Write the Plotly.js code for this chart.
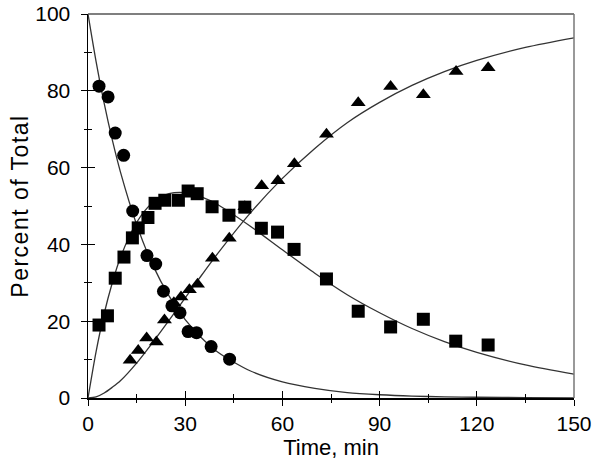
<!DOCTYPE html>
<html>
<head>
<meta charset="utf-8">
<script src="https://cdn.plot.ly/plotly-3.0.1.min.js"></script>
<style>html,body{margin:0;padding:0;background:#fff;}#chart{width:600px;height:467px;}
.ytitle{letter-spacing:1.5px;}</style>
</head>
<body>
<div id="chart"></div>
<script>
// Measured data (Time in min, Percent of Total)
const circleTime = [3.4, 6.2, 8.4, 11.0, 13.8, 18.2, 20.9, 23.3, 25.9, 28.4, 30.9, 33.5, 38.0, 43.7];
const circlePct  = [81.2, 78.4, 69.0, 63.2, 48.7, 37.1, 34.9, 27.8, 24.0, 22.2, 17.3, 17.0, 13.4, 10.1];

const squareTime = [3.4, 6.0, 8.4, 11.1, 13.7, 15.5, 18.5, 20.7, 23.7, 27.9, 30.9, 33.7, 38.3, 43.5, 48.4, 53.5, 58.5, 63.6, 73.6, 83.4, 93.4, 103.5, 113.5, 123.5];
const squarePct  = [19.0, 21.4, 31.2, 36.7, 41.7, 44.3, 47.0, 50.7, 51.5, 51.5, 53.9, 53.2, 49.8, 47.6, 49.7, 44.2, 43.2, 38.7, 31.0, 22.6, 18.5, 20.5, 14.8, 13.8];

const triangleTime = [13.0, 15.5, 18.1, 21.1, 23.6, 26.5, 28.7, 31.3, 33.8, 38.4, 43.6, 48.4, 53.6, 58.6, 63.7, 73.6, 83.4, 93.4, 103.5, 113.6, 123.5];
const trianglePct  = [9.8, 12.4, 15.6, 14.6, 20.3, 24.8, 26.3, 28.2, 29.6, 36.4, 41.6, 49.8, 55.3, 56.6, 61.0, 68.7, 76.9, 81.1, 79.0, 85.0, 86.0];

// Fitted curves
const curveTime = [0, 2.5, 5, 7.5, 10, 15, 20, 25, 30, 35, 40, 50, 60, 70, 80, 90, 100, 110, 120, 135, 150];
const curveA = [100, 87.6, 76.7, 67.2, 58.9, 45.2, 34.6, 26.6, 20.4, 15.7, 12.0, 7.1, 4.2, 2.5, 1.4, 0.85, 0.5, 0.3, 0.2, 0.1, 0.05];
const curveB = [0, 12.1, 22.0, 30.0, 36.6, 45.7, 50.9, 53.2, 53.5, 52.4, 50.4, 44.8, 38.6, 32.5, 26.9, 22.2, 18.1, 14.7, 11.9, 8.6, 6.2];
const curveC = [0, 0.3, 1.3, 2.8, 4.5, 9.1, 14.5, 20.2, 26.1, 31.9, 37.6, 48.1, 57.2, 65.0, 71.7, 77.0, 81.4, 85.0, 87.9, 91.3, 93.8];

const xTicks = [0, 30, 60, 90, 120, 150];
const yTicks = [0, 20, 40, 60, 80, 100];

const lineStyle = {color: '#333', width: 1.3, shape: 'spline', smoothing: 0.8};
const mk = (sym) => ({symbol: sym, size: 13, color: '#000', line: {width: 0}});

const traces = [
  {x: curveTime, y: curveA, mode: 'lines', line: lineStyle, hoverinfo: 'skip'},
  {x: curveTime, y: curveB, mode: 'lines', line: lineStyle, hoverinfo: 'skip'},
  {x: curveTime, y: curveC, mode: 'lines', line: lineStyle, hoverinfo: 'skip'},
  {x: circleTime, y: circlePct, mode: 'markers', marker: mk('circle')},
  {x: squareTime, y: squarePct, mode: 'markers', marker: mk('square')},
  {x: triangleTime, y: trianglePct, mode: 'markers', marker: mk('triangle-up')},
  {x: [], y: [], xaxis: 'x2', yaxis: 'y2', mode: 'markers', hoverinfo: 'skip'}
];

const font = {family: 'Liberation Sans, Arial, sans-serif', color: '#000'};
const baseX = {
  range: [0, 150], tickvals: xTicks, fixedrange: true,
  showgrid: false, zeroline: false
};
const baseY = {
  range: [0, 100], tickvals: yTicks, fixedrange: true,
  showgrid: false, zeroline: false
};

const layout = {
  width: 600, height: 467,
  margin: {l: 88, r: 26, t: 14, b: 69},
  paper_bgcolor: '#fff', plot_bgcolor: '#fff',
  showlegend: false,
  font: font,
  xaxis: Object.assign({}, baseX, {
    showline: true, linecolor: '#000', linewidth: 1.5,
    ticks: 'outside', ticklen: 6, tickwidth: 1, tickcolor: '#000',
    minor: {dtick: 15, ticks: 'outside', ticklen: 3, tickwidth: 1, tickcolor: '#000'},
    tickfont: {family: font.family, size: 21, color: '#000'},
    ticklabelstandoff: 0,
    title: {text: 'Time, min', font: {family: font.family, size: 22, color: '#000'}, standoff: 0}
  }),
  yaxis: Object.assign({}, baseY, {
    showline: true, linecolor: '#000', linewidth: 1.5,
    ticks: 'outside', ticklen: 6, tickwidth: 1, tickcolor: '#000',
    minor: {dtick: 10, ticks: 'outside', ticklen: 3, tickwidth: 1, tickcolor: '#000'},
    tickfont: {family: font.family, size: 21, color: '#000'},
    ticklabelstandoff: 6,
    title: {text: 'Percent of Total', font: {family: font.family, size: 23, color: '#000'}, standoff: 0}
  }),
  xaxis2: Object.assign({}, baseX, {
    overlaying: 'x', side: 'bottom', anchor: 'y2',
    showline: false, showticklabels: false,
    ticks: 'inside', ticklen: 7, tickwidth: 1, tickcolor: '#000',
    minor: {dtick: 15, ticks: 'inside', ticklen: 4, tickwidth: 1, tickcolor: '#000'}
  }),
  yaxis2: Object.assign({}, baseY, {
    overlaying: 'y', side: 'left', anchor: 'x2',
    showline: false, showticklabels: false,
    ticks: 'inside', ticklen: 7, tickwidth: 1, tickcolor: '#000',
    minor: {dtick: 10, ticks: 'inside', ticklen: 4, tickwidth: 1, tickcolor: '#000'}
  }),
  shapes: [
    {type: 'line', xref: 'paper', yref: 'paper', x0: 0, x1: 1, y0: 1, y1: 1, line: {color: '#555', width: 1.5}},
    {type: 'line', xref: 'paper', yref: 'paper', x0: 1, x1: 1, y0: 0, y1: 1, line: {color: '#777', width: 1.5}}
  ]
};

Plotly.newPlot('chart', traces, layout, {staticPlot: true, displayModeBar: false});
</script>
</body>
</html>
